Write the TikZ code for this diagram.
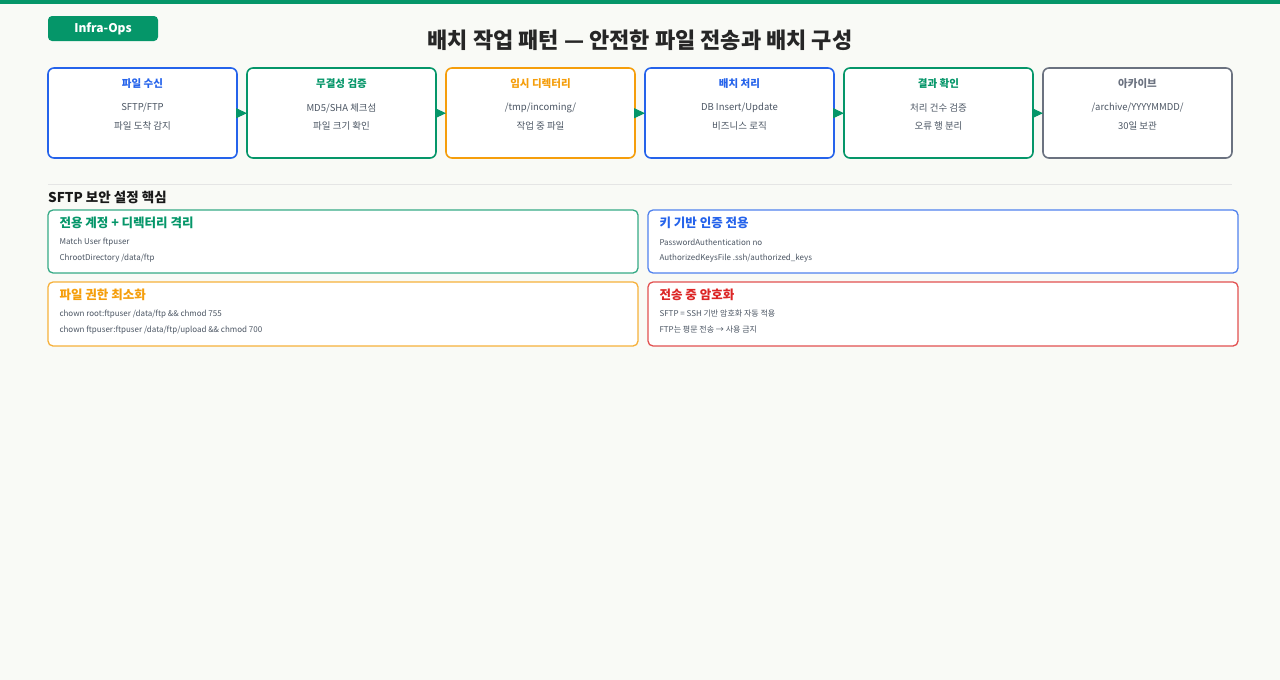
\documentclass[tikz,border=0pt]{standalone}
\usepackage{fontspec}
\setmainfont{Noto Sans CJK KR}
\newfontfamily\kb{Noto Sans CJK KR Bold}
\usetikzlibrary{arrows.meta}
\definecolor{cblue}{HTML}{2563EB}
\definecolor{cgreen}{HTML}{059669}
\definecolor{corange}{HTML}{F59E0B}
\definecolor{cgray}{HTML}{6B7280}
\definecolor{cred}{HTML}{DC2626}
\definecolor{ctext}{HTML}{4B5563}
\definecolor{bg}{HTML}{F9FAF6}
\tikzset{
 stage/.style={draw=#1, line width=1.6pt, rounded corners=6pt, fill=white},
 card/.style={draw=#1, draw opacity=0.8, line width=1.3pt, rounded corners=5pt, fill=white},
 stitle/.style={font=\fontsize{10.5}{12}\selectfont\bfseries, text=#1},
 ctitle/.style={font=\fontsize{12.5}{14}\selectfont\bfseries, text=#1, anchor=west},
 sline/.style={font=\fontsize{9.5}{11}\selectfont, text=ctext},
 cline/.style={font=\fontsize{8}{10}\selectfont, text=ctext, anchor=west},
 flow/.style={draw=cgreen, line width=1pt, -{Triangle[length=11pt,width=10pt]}, fill=cgreen},
}
\begin{document}
\begin{tikzpicture}[x=1pt,y=-1pt]
\fill[bg] (0,0) rectangle (1280,680);
\useasboundingbox (0,0) rectangle (1280,680);
\fill[cgreen] (0,0) rectangle (1280,4);
\node[fill=cgreen, rounded corners=4pt, minimum width=110pt, minimum height=25pt, text=white, font=\fontsize{12}{14}\selectfont\bfseries] (badge) at (103,28.5) {Infra-Ops};
\node[font=\fontsize{22}{26}\selectfont\bfseries, text=black!85] (title) at (640,40) {배치 작업 패턴 — 안전한 파일 전송과 배치 구성};
% stages
\foreach \i/\x/\c/\t/\a/\b in {
 1/48/cblue/파일 수신/SFTP\slash FTP/파일 도착 감지,
 2/247/cgreen/무결성 검증/MD5\slash SHA 체크섬/파일 크기 확인,
 3/446/corange/임시 디렉터리/\slash tmp\slash incoming\slash /작업 중 파일,
 4/645/cblue/배치 처리/DB Insert\slash Update/비즈니스 로직,
 5/844/cgreen/결과 확인/처리 건수 검증/오류 행 분리,
 6/1043/cgray/아카이브/\slash archive\slash YYYYMMDD\slash /30일 보관}{
 \draw[stage=\c] (\x,68) rectangle ++(189,90);
 \node[minimum width=189pt, minimum height=90pt, anchor=north west] (s\i) at (\x,68) {};
 \node[stitle=\c] (s\i t) at (\x+94.5,84) {\t};
 \node[sline] (s\i a) at (\x+94.5,108) {\a};
 \node[sline] (s\i b) at (\x+94.5,126) {\b};
}
\foreach \i/\j in {1/2,2/3,3/4,4/5,5/6}{
 \draw[flow] (s\i.east) -- (s\j.west);
}
\draw[black!10, line width=1pt] (48,184) -- (1232,184);
\node[anchor=west, font=\fontsize{13.5}{16}\selectfont\bfseries, text=black!90, inner sep=0] (sec) at (48,197) {SFTP 보안 설정 핵심};
% cards
\draw[card=cgreen] (48,210) rectangle (638,273);
\node[ctitle=cgreen] (c1t) at (56,223) {전용 계정 + 디렉터리 격리};
\node[cline] (c1a) at (56,242) {Match User ftpuser};
\node[cline] (c1b) at (56,258) {ChrootDirectory /data/ftp};
\draw[card=cblue] (648,210) rectangle (1238,273);
\node[ctitle=cblue] (c2t) at (656,223) {키 기반 인증 전용};
\node[cline] (c2a) at (656,242) {PasswordAuthentication no};
\node[cline] (c2b) at (656,258) {AuthorizedKeysFile .ssh/authorized\_keys};
\draw[card=corange] (48,282) rectangle (638,346);
\node[ctitle=corange] (c3t) at (56,295) {파일 권한 최소화};
\node[cline] (c3a) at (56,314) {chown root:ftpuser /data/ftp \&\& chmod 755};
\node[cline] (c3b) at (56,330) {chown ftpuser:ftpuser /data/ftp/upload \&\& chmod 700};
\draw[card=cred] (648,282) rectangle (1238,346);
\node[ctitle=cred] (c4t) at (656,295) {전송 중 암호화};
\node[cline] (c4a) at (656,314) {SFTP = SSH 기반 암호화 자동 적용};
\node[cline] (c4b) at (656,330) {FTP는 평문 전송 → 사용 금지};
\end{tikzpicture}
\end{document}
